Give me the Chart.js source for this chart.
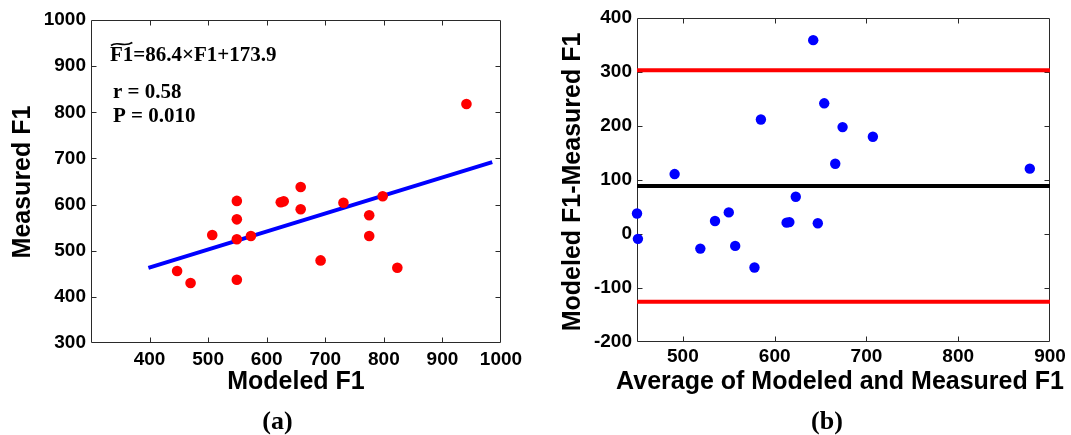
<!DOCTYPE html>
<html><head><meta charset="utf-8">
<script src="https://cdn.jsdelivr.net/npm/chart.js@4.4.1/dist/chart.umd.min.js"></script>
<style>
html,body{margin:0;padding:0;background:#fff;width:1071px;height:435px;overflow:hidden;position:relative;}
canvas{position:absolute;top:0;}
#ca{left:0;} #cb{left:540px;}
</style></head><body>
<canvas id="ca" width="540" height="435"></canvas>
<canvas id="cb" width="531" height="435"></canvas>
<script>
// ---------- Panel (a): Measured vs Modeled F1 ----------
const modeledF1  = [447, 470, 507, 549, 549, 549, 549, 573, 624, 629, 658, 658, 692, 731, 775, 775, 798, 823, 941];
const measuredF1 = [456, 430, 534, 608, 568, 525, 437, 532, 605, 607, 638, 590, 479, 604, 577, 532, 618, 463, 818];
const fitLineX = [398, 985];
const fitLineY = [463, 692];
const aXTicks = [400, 500, 600, 700, 800, 900, 1000];
const aYTicks = [300, 400, 500, 600, 700, 800, 900, 1000];
const aXInner = [400, 500, 600, 700, 800, 900];
const aYInner = [400, 500, 600, 700, 800, 900];

// ---------- Panel (b): Bland-Altman ----------
const avgF1  = [450, 451, 491, 519, 535, 550, 557, 578, 585, 613, 616, 623, 642, 647, 654, 666, 674, 707, 878];
const diffF1 = [38, -9, 111, -27, 24, 40, -22, -62, 212, 21, 22, 69, 359, 20, 242, 130, 198, 180, 121];
const meanDiff = 89;
const upperLoA = 303.3;
const lowerLoA = -125.3;
const bXTicks = [500, 600, 700, 800, 900];
const bYTicks = [-200, -100, 0, 100, 200, 300, 400];
const bXInner = [500, 600, 700, 800];
const bYInner = [-100, 0, 100, 200, 300];

const SANS = "'Liberation Sans', Arial, sans-serif";
const SERIF = "'Liberation Serif', 'Times New Roman', serif";

const deco = {
  id: 'deco',
  beforeDatasetsDraw(chart, args, o) {
    const ctx = chart.ctx, a = chart.chartArea, xs = chart.scales.x, ys = chart.scales.y;
    ctx.save();
    ctx.strokeStyle = '#2a2a2a';
    ctx.lineWidth = 1;
    const L = Math.round(a.left) + 0.5, R = Math.round(a.right) - 0.5;
    const T = Math.round(a.top) + 0.5, B = Math.round(a.bottom) - 0.5;
    ctx.beginPath();
    ctx.rect(L, T, R - L, B - T);
    const tl = 5;
    o.xInner.forEach(v => {
      const p = Math.round(xs.getPixelForValue(v)) + 0.5;
      ctx.moveTo(p, B); ctx.lineTo(p, B - tl);
      ctx.moveTo(p, T); ctx.lineTo(p, T + tl);
    });
    o.yInner.forEach(v => {
      const p = Math.round(ys.getPixelForValue(v)) + 0.5;
      ctx.moveTo(L, p); ctx.lineTo(L + tl, p);
      ctx.moveTo(R, p); ctx.lineTo(R - tl, p);
    });
    ctx.stroke();
    ctx.restore();
  },
  afterDraw(chart, args, o) {
    const ctx = chart.ctx;
    ctx.save();
    ctx.fillStyle = '#000';
    (o.texts || []).forEach(t => {
      ctx.save();
      ctx.font = t.font;
      ctx.textAlign = t.align || 'center';
      ctx.textBaseline = t.baseline || 'middle';
      ctx.translate(t.x, t.y);
      if (t.rotate) ctx.rotate(t.rotate);
      ctx.fillText(t.text, 0, 0);
      ctx.restore();
    });
    if (o.tilde) {
      const t = o.tilde;
      ctx.font = t.font;
      const w = ctx.measureText(t.over).width;
      const x0 = t.x + 1, x1 = t.x + w - 1, y = t.y;
      ctx.strokeStyle = '#000';
      ctx.lineWidth = 1.6;
      ctx.beginPath();
      ctx.moveTo(x0, y + 1.5);
      ctx.bezierCurveTo(x0 + (x1 - x0) * 0.3, y - 3.5, x0 + (x1 - x0) * 0.6, y + 4, x1, y - 1.5);
      ctx.stroke();
    }
    ctx.restore();
  }
};

function axisOpts(min, max, ticksArr, pad) {
  return {
    type: 'linear', min: min, max: max,
    grid: { display: false, drawTicks: false },
    border: { display: false },
    afterBuildTicks: s => { s.ticks = ticksArr.map(v => ({ value: v })); },
    ticks: {
      autoSkip: false, maxRotation: 0, padding: pad, color: '#000',
      font: { family: SANS, weight: 'bold', size: 19 },
      callback: v => String(v)
    }
  };
}

// Chart (a)
const A = { W: 540, H: 435, left: 91, right: 501, top: 20, bottom: 343 };
const ax = axisOpts(300, 1000, aXTicks, 5);
ax.afterFit = s => { s.height = A.H - A.bottom; };
const ay = axisOpts(300, 1000, aYTicks, 5);
ay.afterFit = s => { s.width = A.left; };

new Chart(document.getElementById('ca'), {
  type: 'scatter',
  data: {
    datasets: [
      {
        type: 'scatter',
        data: modeledF1.map((v, i) => ({ x: v, y: measuredF1[i] })),
        backgroundColor: '#ff0000', borderColor: '#ff0000', borderWidth: 0,
        pointRadius: 5.3, clip: false
      },
      {
        type: 'line',
        data: fitLineX.map((v, i) => ({ x: v, y: fitLineY[i] })),
        borderColor: '#0000ff', borderWidth: 4, pointRadius: 0, fill: false, tension: 0
      }
    ]
  },
  options: {
    responsive: false, animation: false, devicePixelRatio: 1,
    layout: { padding: { left: 0, top: A.top, right: A.W - A.right, bottom: 0 } },
    scales: { x: ax, y: ay },
    plugins: {
      legend: { display: false }, tooltip: { enabled: false },
      deco: {
        xInner: aXInner, yInner: aYInner,
        texts: [
          { text: 'Measured F1', x: 23.5, y: 182, rotate: -Math.PI / 2, font: 'bold 25px ' + SANS },
          { text: 'Modeled F1', x: 296, y: 382, font: 'bold 25px ' + SANS },
          { text: '(a)', x: 277.5, y: 429, baseline: 'alphabetic', font: 'bold 26px ' + SERIF },
          { text: 'F1=86.4\u00d7F1+173.9', x: 110, y: 61, align: 'left', baseline: 'alphabetic', font: 'bold 21px ' + SERIF },
          { text: 'r = 0.58', x: 113, y: 97.5, align: 'left', baseline: 'alphabetic', font: 'bold 21px ' + SERIF },
          { text: 'P = 0.010', x: 113, y: 121.5, align: 'left', baseline: 'alphabetic', font: 'bold 21px ' + SERIF }
        ],
        tilde: { over: 'F1', x: 110, y: 44, font: 'bold 21px ' + SERIF }
      }
    }
  },
  plugins: [deco]
});

// Chart (b)
const Bd = { W: 531, H: 435, left: 97, right: 510, top: 18, bottom: 342 };
const bx = axisOpts(450, 900, bXTicks, 3);
bx.afterFit = s => { s.height = Bd.H - Bd.bottom; };
const by = axisOpts(-200, 400, bYTicks, 5);
by.afterFit = s => { s.width = Bd.left; };

function hLine(yv, color) {
  return {
    type: 'line',
    data: [{ x: 450, y: yv }, { x: 900, y: yv }],
    borderColor: color, borderWidth: 4, pointRadius: 0, fill: false, tension: 0
  };
}

new Chart(document.getElementById('cb'), {
  type: 'scatter',
  data: {
    datasets: [
      {
        type: 'scatter',
        data: avgF1.map((v, i) => ({ x: v, y: diffF1[i] })),
        backgroundColor: '#0000ff', borderColor: '#0000ff', borderWidth: 0,
        pointRadius: 5.2, clip: false
      },
      hLine(upperLoA, '#ff0000'),
      hLine(meanDiff, '#000000'),
      hLine(lowerLoA, '#ff0000')
    ]
  },
  options: {
    responsive: false, animation: false, devicePixelRatio: 1,
    layout: { padding: { left: 0, top: Bd.top, right: Bd.W - Bd.right, bottom: 0 } },
    scales: { x: bx, y: by },
    plugins: {
      legend: { display: false }, tooltip: { enabled: false },
      deco: {
        xInner: bXInner, yInner: bYInner,
        texts: [
          { text: 'Modeled F1-Measured F1', x: 33.5, y: 182, rotate: -Math.PI / 2, font: 'bold 25px ' + SANS },
          { text: 'Average of Modeled and Measured F1', x: 300, y: 382, font: 'bold 25px ' + SANS },
          { text: '(b)', x: 287, y: 429, baseline: 'alphabetic', font: 'bold 26px ' + SERIF }
        ]
      }
    }
  },
  plugins: [deco]
});
</script>
</body></html>
